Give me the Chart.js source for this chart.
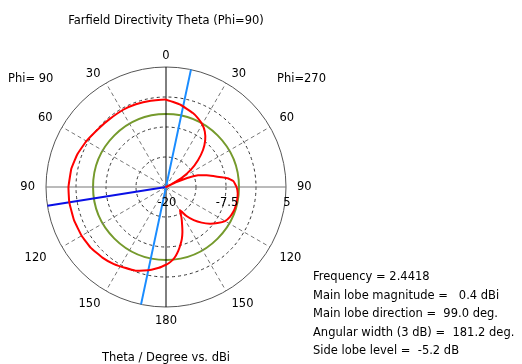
<!DOCTYPE html>
<html>
<head>
<meta charset="utf-8">
<script src="https://cdn.jsdelivr.net/npm/chart.js@4/dist/chart.umd.min.js"></script>
<style>
  html, body { margin: 0; padding: 0; background: #fff; }
  #wrap { width: 522px; height: 364px; }
</style>
</head>
<body>
<div id="wrap"><canvas id="farfield" width="522" height="364"></canvas></div>
<script>
// screen angle, degrees clockwise from the top (0..359); left half = Phi=90 side
const curveAngles = [0, 10, 20, 25, 30, 35, 40, 45, 50, 55, 60, 63, 64, 65, 67, 70, 74, 77, 80, 82, 85, 90,
    95, 100, 105, 110, 115, 120, 125, 130, 135, 140, 145, 149, 153, 157, 160, 163, 166, 169, 172, 175, 178,
    180, 185, 190, 195, 200, 207, 214, 222, 231, 240, 250, 261, 270, 281, 290, 300, 312, 320, 331, 340, 350];
// directivity in dBi at those angles
const curveValues = [-1.8, -2.6, -3.6, -4.2, -4.9, -5.9, -7.3, -9.1, -11.3, -13.6, -16.2, -18.6, -20, -17.6, -15.2, -12.9, -11.2, -9.9, -8.3, -7.0, -5.9, -5.3,
    -5.0, -4.95, -4.95, -5.05, -5.3, -5.8, -6.9, -8.1, -9.5, -11.0, -12.7, -14.4, -12.9, -11.4, -10.0, -8.7, -7.6, -6.5, -5.5, -4.7, -4.1,
    -3.8, -3.1, -2.5, -2.0, -1.45, -1.1, -0.6, -0.2, 0.15, 0.3, 0.37, 0.4, 0.32, 0.08, -0.3, -0.85, -1.45, -1.6, -1.6, -1.65, -1.75];

const mainLobeAngles = [260, 261];   // centre -> main lobe direction (theta 99 on Phi=90 side)
const mainLobeValues = [-20, 5];
const axisLineAngles = [12, 192];
const axisLineValues = [5, 5];
const sideLobeLevel = -4.8;

const rMin = -20, rMax = 5, rStep = 6.25;
const radialLabels = [-20, -7.5, 5];
const angleLabelAt = [0, 30, 60, 90, 120, 150, 180, 210, 240, 270, 300, 330];
const angleLabelText = ['0', '30', '60', '90', '120', '150', '180', '150', '120', '90', '60', '30'];

const infoLines = [
    'Frequency = 2.4418',
    'Main lobe magnitude =   0.4 dBi',
    'Main lobe direction =  99.0 deg.',
    'Angular width (3 dB) =  181.2 deg.',
    'Side lobe level =  -5.2 dB'
];

const labels = [];
for (let i = 0; i < 360; i++) labels.push(String(i));

function spread(angles, values) {
    const arr = new Array(360).fill(null);
    angles.forEach((a, i) => { arr[a] = values[i]; });
    return arr;
}

const FONT = '11.5px "DejaVu Sans"';

// small nudges so the angle labels sit like the CST ones
function labelNudge(a) {
    if (a === 60 || a === 300) return { dx: 0, dy: -3 };
    if (a === 120) return { dx: 0, dy: 6 };
    if (a === 240) return { dx: -6, dy: 6 };
    if (a === 150 || a === 210) return { dx: 0, dy: 4 };
    if (a === 180) return { dx: 0, dy: 3 };
    return { dx: 0, dy: 0 };
}

const textPlugin = {
    id: 'farfieldText',
    afterDraw(chart) {
        const ctx = chart.ctx;
        const scale = chart.scales.r;
        ctx.save();
        ctx.font = FONT;
        ctx.fillStyle = '#000';
        ctx.textBaseline = 'alphabetic';

        ctx.textAlign = 'center';
        ctx.fillText('Farfield Directivity Theta (Phi=90)', 166, 24);
        ctx.fillText('Theta / Degree vs. dBi', 166, 361);

        ctx.textAlign = 'left';
        ctx.fillText('Phi= 90', 8, 82);
        ctx.fillText('Phi=270', 277, 82);

        // angle labels round the outer circle
        ctx.textBaseline = 'middle';
        angleLabelAt.forEach((a, i) => {
            const p = scale.getPointPosition(a, scale.drawingArea + 11);
            const n = labelNudge(a);
            if (a === 0 || a === 180) ctx.textAlign = 'center';
            else if (a < 180) ctx.textAlign = 'left';
            else ctx.textAlign = 'right';
            ctx.fillText(angleLabelText[i], p.x + n.dx, p.y + n.dy);
        });

        // radial labels along the horizontal axis
        ctx.textAlign = 'center';
        ctx.textBaseline = 'alphabetic';
        radialLabels.forEach(v => {
            const d = scale.getDistanceFromCenterForValue(v);
            ctx.fillText(String(v), scale.xCenter + d + 1, scale.yCenter + 19);
        });

        ctx.textAlign = 'left';
        infoLines.forEach((t, i) => ctx.fillText(t, 313, 280 + i * 18.5));
        ctx.restore();
    }
};

new Chart(document.getElementById('farfield'), {
    type: 'radar',
    data: {
        labels: labels,
        datasets: [
            {
                data: spread(curveAngles, curveValues),
                borderColor: '#ff0000',
                borderWidth: 2,
                spanGaps: true,
                tension: 0.1,
                fill: false,
                clip: false
            },
            {
                data: spread(axisLineAngles, axisLineValues),
                borderColor: '#1a8cff',
                borderWidth: 2,
                spanGaps: true,
                fill: false,
                clip: false
            },
            {
                data: spread(mainLobeAngles, mainLobeValues),
                borderColor: '#0a10e6',
                borderWidth: 2,
                spanGaps: true,
                fill: false,
                clip: false
            }
        ]
    },
    options: {
        responsive: false,
        animation: false,
        layout: { padding: { left: 46, top: 67, right: 236, bottom: 57 } },
        elements: { point: { radius: 0, hoverRadius: 0 } },
        plugins: { legend: { display: false }, tooltip: { enabled: false } },
        scales: {
            r: {
                min: rMin,
                max: rMax,
                ticks: { display: false, stepSize: rStep },
                pointLabels: { display: false },
                afterBuildTicks: scale => {
                    scale.ticks.push({ value: sideLobeLevel });
                },
                grid: {
                    circular: true,
                    color: c => {
                        if (c.tick && c.tick.value === sideLobeLevel) return '#759a2c';
                        if (c.tick && c.tick.value === rMax) return '#555';
                        return '#333';
                    },
                    lineWidth: c => (c.tick && c.tick.value === sideLobeLevel) ? 2 : 1
                },
                border: {
                    dash: c => (c.tick && (c.tick.value === sideLobeLevel || c.tick.value === rMax)) ? [] : [3, 3]
                },
                angleLines: {
                    color: c => {
                        if (c.index === 0 || c.index === 180) return '#000';
                        return '#777';
                    },
                    lineWidth: c => (c.index % 30 === 0) ? 1 : 0,
                    borderDash: c => (c.index % 90 === 0) ? [] : [4, 3]
                }
            }
        }
    },
    plugins: [textPlugin]
});
</script>
</body>
</html>
